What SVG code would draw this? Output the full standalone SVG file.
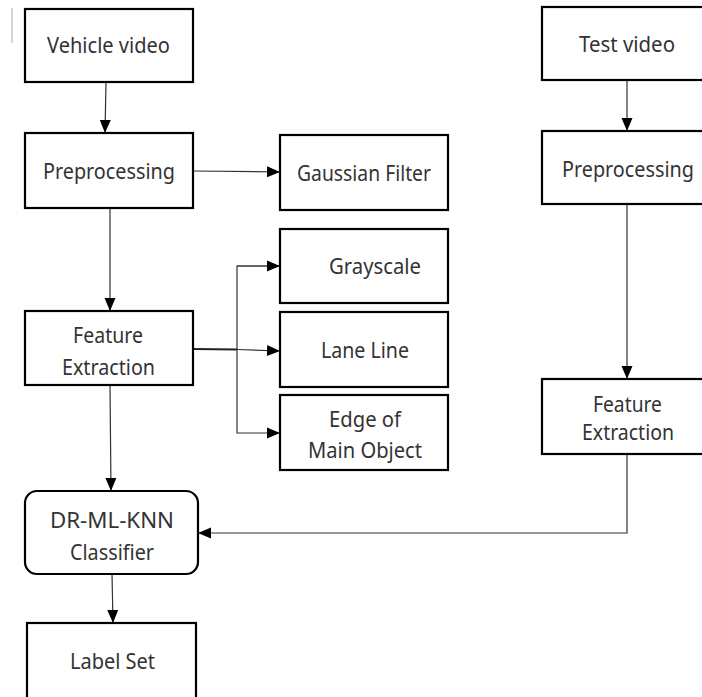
<svg xmlns="http://www.w3.org/2000/svg" width="702" height="697" viewBox="0 0 702 697">
<style>
.box{fill:#fff;stroke:#000;stroke-width:2.2}
.t{font-family:"Noto Sans","Open Sans",sans-serif;font-size:21.5px;fill:#333;text-anchor:middle}
.c{fill:none;stroke:#333;stroke-width:1.2}
</style>
<defs>
<marker id="ah" markerUnits="userSpaceOnUse" markerWidth="13" markerHeight="13" viewBox="0 0 13 13" refX="13" refY="6.5" orient="auto">
<path d="M0,1 L13,6.5 L0,12 Z" fill="#000"/>
</marker>
</defs>
<rect width="702" height="697" fill="#fff"/>
<line x1="12" y1="8" x2="12" y2="43" stroke="#aaa" stroke-width="1"/>
<g id="connectors">
<line class="c" x1="106" y1="82" x2="105" y2="133" marker-end="url(#ah)"/>
<line class="c" x1="193" y1="171" x2="280" y2="172" marker-end="url(#ah)"/>
<line class="c" x1="110" y1="208" x2="110" y2="311" marker-end="url(#ah)"/>
<line x1="193" y1="349" x2="237" y2="349.5" stroke="#222" stroke-width="2.2"/>
<line class="c" x1="237" y1="349.5" x2="280" y2="351" marker-end="url(#ah)"/>
<polyline class="c" points="280,266 237,266 237,433 280,433" marker-end="url(#ah)"/>
<line class="c" x1="237" y1="266" x2="280" y2="266" marker-end="url(#ah)"/>
<line class="c" x1="110" y1="385" x2="111" y2="491" marker-end="url(#ah)"/>
<line class="c" x1="112" y1="574" x2="113" y2="623" marker-end="url(#ah)"/>
<line class="c" x1="627" y1="80" x2="627" y2="131" marker-end="url(#ah)"/>
<line class="c" x1="627" y1="204" x2="627" y2="379" marker-end="url(#ah)"/>
<polyline class="c" points="627,454 627,533 198,533" marker-end="url(#ah)"/>
</g>
<g id="vehicle-video"><rect class="box" x="25" y="9" width="168" height="73"/><text class="t" x="108.5" y="53" textLength="123" lengthAdjust="spacingAndGlyphs">Vehicle video</text></g>
<g id="preprocessing-left"><rect class="box" x="25" y="133" width="168" height="75"/><text class="t" x="109" y="179" textLength="132" lengthAdjust="spacingAndGlyphs">Preprocessing</text></g>
<g id="gaussian-filter"><rect class="box" x="280" y="135" width="168" height="75"/><text class="t" x="364" y="181" textLength="134" lengthAdjust="spacingAndGlyphs">Gaussian Filter</text></g>
<g id="grayscale"><rect class="box" x="280" y="229" width="168" height="74"/><text class="t" x="375" y="274" textLength="92" lengthAdjust="spacingAndGlyphs">Grayscale</text></g>
<g id="lane-line"><rect class="box" x="280" y="312" width="168" height="75"/><text class="t" x="365" y="358" textLength="88" lengthAdjust="spacingAndGlyphs">Lane Line</text></g>
<g id="edge-main-object"><rect class="box" x="280" y="395" width="168" height="75"/><text class="t" x="365" y="427" textLength="72" lengthAdjust="spacingAndGlyphs">Edge of</text><text class="t" x="365" y="458" textLength="114" lengthAdjust="spacingAndGlyphs">Main Object</text></g>
<g id="feature-extraction-left"><rect class="box" x="25" y="311" width="168" height="74"/><text class="t" x="108" y="343" textLength="70" lengthAdjust="spacingAndGlyphs">Feature</text><text class="t" x="108.5" y="375" textLength="93" lengthAdjust="spacingAndGlyphs">Extraction</text></g>
<g id="classifier"><rect class="box" x="25" y="491" width="173" height="83" rx="12"/><text class="t" x="112" y="528" textLength="124" lengthAdjust="spacingAndGlyphs">DR-ML-KNN</text><text class="t" x="112" y="560" textLength="84" lengthAdjust="spacingAndGlyphs">Classifier</text></g>
<g id="label-set"><rect class="box" x="27" y="623" width="169" height="90"/><text class="t" x="112.5" y="669" textLength="85" lengthAdjust="spacingAndGlyphs">Label Set</text></g>
<g id="test-video"><rect class="box" x="542" y="7" width="180" height="73"/><text class="t" x="627" y="52" textLength="96" lengthAdjust="spacingAndGlyphs">Test video</text></g>
<g id="preprocessing-right"><rect class="box" x="542" y="131" width="180" height="73"/><text class="t" x="628" y="177" textLength="132" lengthAdjust="spacingAndGlyphs">Preprocessing</text></g>
<g id="feature-extraction-right"><rect class="box" x="542" y="379" width="180" height="75"/><text class="t" x="627.5" y="412" textLength="69" lengthAdjust="spacingAndGlyphs">Feature</text><text class="t" x="628" y="440" textLength="92" lengthAdjust="spacingAndGlyphs">Extraction</text></g>
</svg>
